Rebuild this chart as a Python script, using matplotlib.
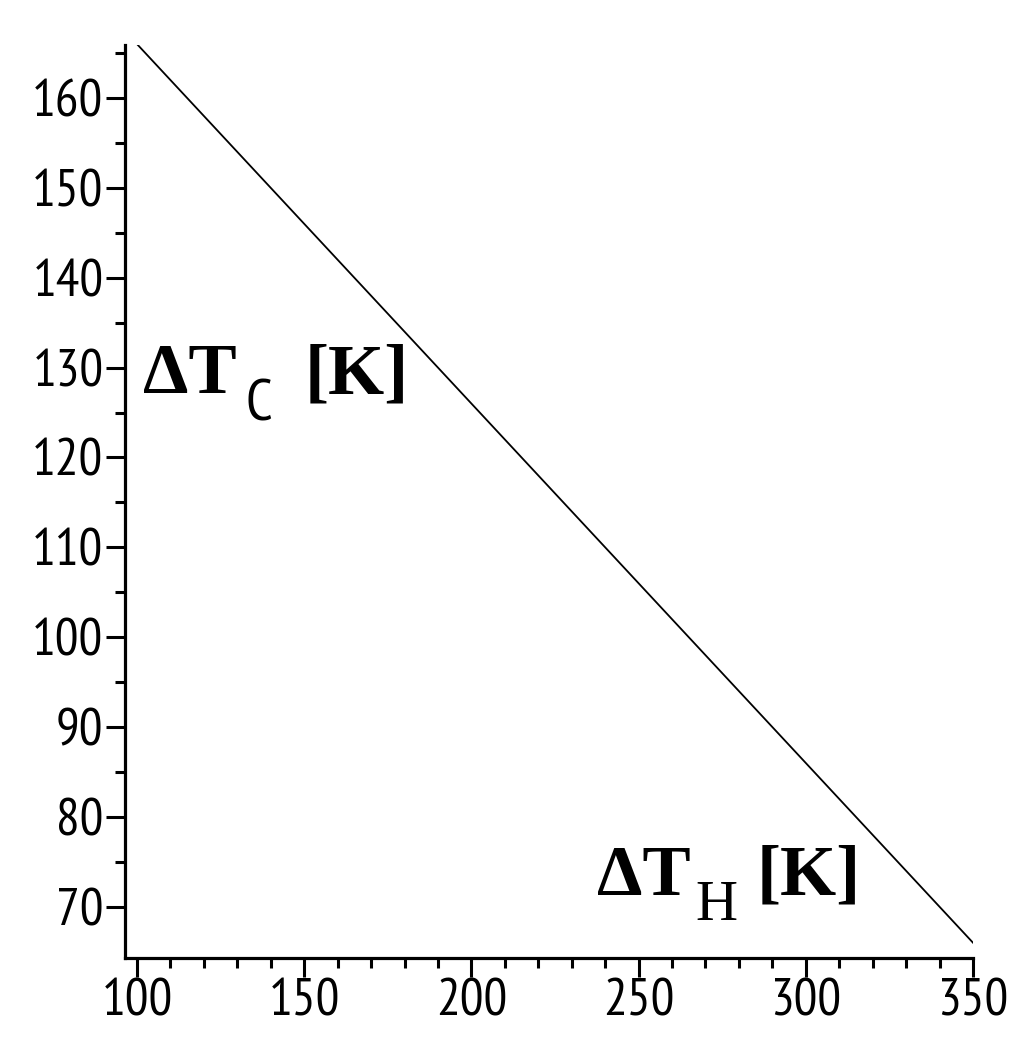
import numpy as np
import matplotlib
matplotlib.use("Agg")
import matplotlib.pyplot as plt
from matplotlib.ticker import FixedLocator

# values
dT_H = [100, 150, 200, 250, 300, 350]
dT_C = [166, 146, 126, 106, 86, 66]

x_ticks = [100, 150, 200, 250, 300, 350]
y_ticks = [70, 80, 90, 100, 110, 120, 130, 140, 150, 160]
x_minor = [v for v in range(110, 350, 10) if v % 50]
y_minor = [v for v in range(75, 170, 10)]

tick_font = ['PT Sans Narrow', 'Liberation Sans', 'DejaVu Sans']
serif_font = ['Liberation Serif', 'DejaVu Serif']

fig = plt.figure(figsize=(10.26, 10.39), dpi=100)
ax = fig.add_axes([0.1218, 0.078, 0.8265, 0.8787])

ax.plot(dT_H, dT_C, color='black', linewidth=1.3)

ax.set_xlim(96.4, 350)
ax.set_ylim(64.3, 165.9)

ax.spines['top'].set_visible(False)
ax.spines['right'].set_visible(False)
for s in ['left', 'bottom']:
    ax.spines[s].set_linewidth(2.3)

ax.set_xticks(x_ticks)
ax.set_yticks(y_ticks)
ax.xaxis.set_minor_locator(FixedLocator(x_minor))
ax.yaxis.set_minor_locator(FixedLocator(y_minor))
ax.tick_params(which='major', length=13.5, width=2.2, pad=1)
ax.tick_params(which='minor', length=7, width=2.2)
ax.tick_params(axis='y', which='major', pad=2)

for lab in ax.get_xticklabels() + ax.get_yticklabels():
    lab.set_family(tick_font)
    lab.set_fontsize(38)

# axis labels placed inside the plot, Maple style
fig.text(143 / 1026, 1 - 393 / 1039, '\u0394T', family=serif_font,
         fontweight='bold', fontsize=52, va='baseline')
fig.text(245 / 1026, 1 - 420 / 1039, 'C', family=tick_font,
         fontsize=42, va='baseline')
fig.text(305 / 1026, 1 - 393 / 1039, '[K]', family=serif_font,
         fontweight='bold', fontsize=52, va='baseline')

fig.text(597 / 1026, 1 - 895 / 1039, '\u0394T', family=serif_font,
         fontweight='bold', fontsize=52, va='baseline')
fig.text(695 / 1026, 1 - 920 / 1039, 'H', family=serif_font,
         fontsize=42, va='baseline')
fig.text(757 / 1026, 1 - 895 / 1039, '[K]', family=serif_font,
         fontweight='bold', fontsize=52, va='baseline')

fig.savefig('out.png', dpi=100)
